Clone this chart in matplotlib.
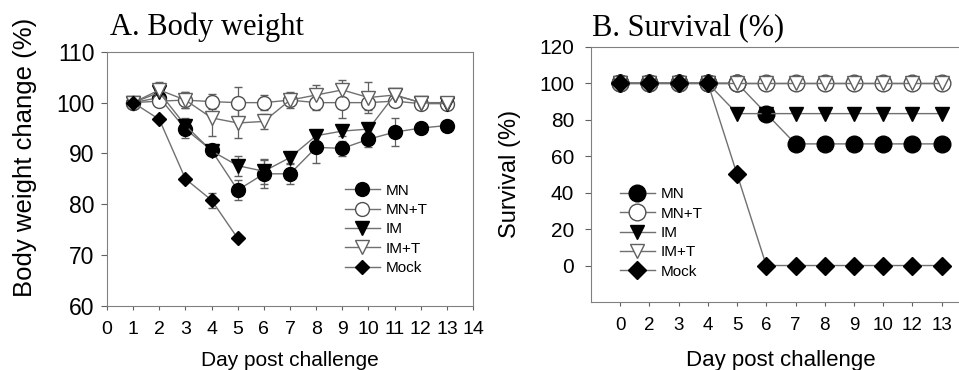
import numpy as np
import matplotlib
matplotlib.use('Agg')
import matplotlib.pyplot as plt

plt.rcParams['font.family'] = ['Liberation Sans', 'DejaVu Sans']

# A. body weight, days 1-13
days_a = [1, 2, 3, 4, 5, 6, 7, 8, 9, 10, 11, 12, 13]
mn_w = [100, 101, 94.8, 90.6, 82.8, 86.0, 86.0, 91.2, 91.0, 92.8, 94.2, 95.0, 95.5]
mn_w_err = [0, 0.5, 1.8, 0.8, 2.0, 2.8, 2.0, 3.0, 1.5, 1.5, 2.8, 0.4, 0.4]
mnt_w = [100, 100.3, 100.5, 100.2, 100.0, 100.0, 100.5, 100.0, 100.0, 100.0, 100.3, 99.8, 99.8]
mnt_w_err = [0, 1.0, 1.5, 1.5, 3.0, 1.5, 1.0, 1.5, 3.0, 1.5, 1.0, 0.3, 0.3]
im_w = [100, 102.0, 95.5, 90.5, 87.6, 86.5, 89.2, 93.5, 94.4, 94.8, 101.5, 100.0, 99.8]
im_w_err = [0, 1.5, 1.5, 0.8, 2.0, 2.5, 1.0, 1.0, 1.0, 1.0, 0.5, 0.3, 0.3]
imt_w = [100, 102.5, 100.5, 97.0, 96.0, 96.3, 100.5, 101.5, 102.5, 101.0, 101.5, 100.0, 100.0]
imt_w_err = [0, 1.5, 1.5, 3.5, 3.0, 1.5, 1.5, 2.0, 2.0, 3.0, 1.0, 0.3, 0.3]
mock_days = [1, 2, 3, 4, 5]
mock_w = [100, 96.7, 85.0, 80.8, 73.3]
mock_w_err = [0, 0.3, 0.3, 1.5, 0.3]

# B. survival
days_b = ['0', '2', '3', '4', '5', '6', '7', '8', '9', '10', '12', '13']
mn_s = [100, 100, 100, 100, 100, 83.3, 66.7, 66.7, 66.7, 66.7, 66.7, 66.7]
mnt_s = [100, 100, 100, 100, 100, 100, 100, 100, 100, 100, 100, 100]
im_s = [100, 100, 100, 100, 83.3, 83.3, 83.3, 83.3, 83.3, 83.3, 83.3, 83.3]
imt_s = [100, 100, 100, 100, 100, 100, 100, 100, 100, 100, 100, 100]
mock_s = [100, 100, 100, 100, 50, 0, 0, 0, 0, 0, 0, 0]

groups = ['MN', 'MN+T', 'IM', 'IM+T', 'Mock']
line_c = '#707070'
styles = {
    'MN': dict(marker='o', mfc='black', mec='black'),
    'MN+T': dict(marker='o', mfc='white', mec='#505050'),
    'IM': dict(marker='v', mfc='black', mec='black'),
    'IM+T': dict(marker='v', mfc='white', mec='#606060'),
    'Mock': dict(marker='D', mfc='black', mec='black'),
}
size_a = {'o': 10, 'v': 10, 'D': 7.2}
size_b = {'o': 12, 'v': 9.5, 'D': 9}

fig = plt.figure(figsize=(9.59, 3.70), dpi=100)

# ---- panel A
ax1 = fig.add_axes([0.1116, 0.173, 0.3817, 0.687])
series_a = [(days_a, mn_w, mn_w_err), (days_a, mnt_w, mnt_w_err), (days_a, im_w, im_w_err),
            (days_a, imt_w, imt_w_err), (mock_days, mock_w, mock_w_err)]
handles = []
for g, (x, y, e) in zip(groups, series_a):
    st = styles[g]
    cont = ax1.errorbar(x, y, yerr=e, color=line_c, lw=1.0, elinewidth=0.9, capsize=3,
                        ecolor='#606060', marker=st['marker'], mfc=st['mfc'], mec=st['mec'],
                        ms=size_a[st['marker']], mew=1.0, label=g)
    handles.append(cont[0])
ax1.set_xlim(0, 14)
ax1.set_ylim(60, 110)
ax1.set_xticks(range(0, 15))
ax1.set_yticks(range(60, 111, 10))
ax1.tick_params(axis='x', labelsize=14, direction='out', length=3, color='#606060', pad=8)
ax1.tick_params(axis='y', labelsize=16.5, direction='out', length=4, color='#606060', pad=5)
ax1.set_xlabel('Day post challenge', fontsize=15, va='center')
ax1.xaxis.set_label_coords(0.5, -0.2126)
ax1.set_ylabel('Body weight change (%)', fontsize=18.5, va='center')
ax1.yaxis.set_label_coords(-0.224, 0.583)
for sp in ax1.spines.values():
    sp.set_color('#808080')
ax1.legend(handles=handles, labels=groups, loc='upper left', bbox_to_anchor=(0.353, 0.52),
           bbox_transform=fig.transFigure, frameon=False, fontsize=11, handlelength=2.3,
           handletextpad=0.4, labelspacing=0.35, borderaxespad=0)

# ---- panel B
ax2 = fig.add_axes([0.6163, 0.1838, 0.396, 0.690])
xb = np.arange(len(days_b))
for g, y in zip(groups, [mn_s, mnt_s, im_s, imt_s, mock_s]):
    st = styles[g]
    ax2.plot(xb, y, color=line_c, lw=1.0, marker=st['marker'], mfc=st['mfc'],
             mec=st['mec'], ms=size_b[st['marker']], mew=1.0, label=g)
ax2.set_xlim(-1, 12)
ax2.set_ylim(-20, 120)
ax2.set_xticks(xb)
ax2.set_xticklabels(days_b)
ax2.set_yticks(range(0, 121, 20))
ax2.tick_params(axis='x', labelsize=13.5, direction='out', length=3, color='#606060', pad=7.5)
ax2.tick_params(axis='y', labelsize=15, direction='out', length=4, color='#606060', pad=8)
ax2.set_xlabel('Day post challenge', fontsize=16, va='center')
ax2.xaxis.set_label_coords(0.5, -0.23)
ax2.set_ylabel('Survival (%)', fontsize=17, va='center')
ax2.yaxis.set_label_coords(-0.213, 0.502)
for sp in ax2.spines.values():
    sp.set_color('#808080')
ax2.legend(loc='upper left', bbox_to_anchor=(0.64, 0.51), bbox_transform=fig.transFigure,
           frameon=False, fontsize=11, handlelength=2.3, handletextpad=0.4,
           labelspacing=0.35, borderaxespad=0)

fig.text(0.1147, 0.9054, 'A. Body weight', family='Liberation Serif', fontsize=22, va='baseline')
fig.text(0.617, 0.9054, 'B. Survival (%)', family='Liberation Serif', fontsize=22, va='baseline')

fig.savefig('out.png', dpi=100)
